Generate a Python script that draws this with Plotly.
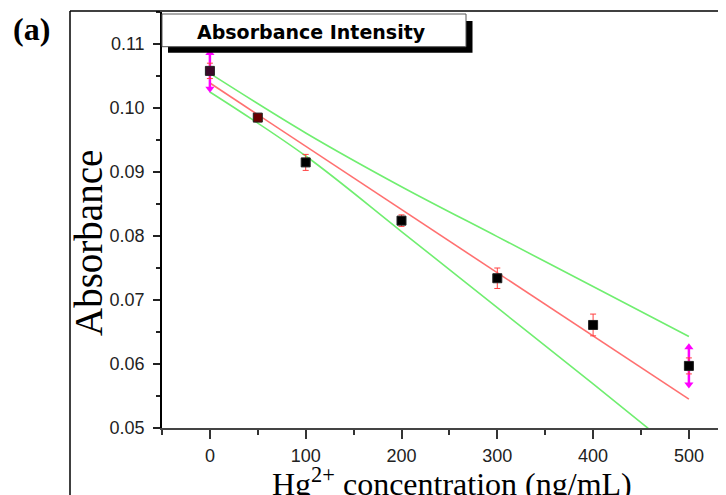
import plotly.graph_objects as go

# ---- data ----
conc = [0, 50, 100, 200, 300, 400, 500]
absorb = [0.1058, 0.0985, 0.0915, 0.0824, 0.0734, 0.0661, 0.0597]
err = [0.0012, 0.0005, 0.00125, 0.0009, 0.0016, 0.0017, 0.00125]
marker_colors = ["#3a0a28", "#6a0000", "black", "black", "black", "black", "black"]

fit_x = [0, 500]
fit_y = [0.1039, 0.0545]

band_x = [0, 100, 200, 300, 400, 500]
band_upper = [0.1054, 0.0961, 0.0877, 0.0799, 0.0721, 0.0643]
band_lower = [0.1025, 0.0925, 0.0807, 0.0688, 0.0569, 0.0448]

arrow_x = [0, 500]
arrow_y = [0.1058, 0.0597]
arrow_half = [0.0028, 0.0029]

x_ticks = [0, 100, 200, 300, 400, 500]
y_ticks = [0.05, 0.06, 0.07, 0.08, 0.09, 0.10, 0.11]

# ---- layout geometry (pixels) ----
OFF = 8                      # page body margin of the html page
WIN_W, WIN_H = 726, 495
W, H = WIN_W - OFF, WIN_H - OFF
PLOT_L, PLOT_T, PLOT_B = 162, 12, 428   # plot box in window pixels
L, T = PLOT_L - OFF, PLOT_T - OFF
B = H - (PLOT_B - OFF)
R = 0
PW, PH = W - L - R, H - T - B


def px(xp):
    return (xp - OFF - L) / PW


def py(yp):
    return (H - B - (yp - OFF)) / PH


fig = go.Figure()

# confidence lines (green)
fig.add_trace(go.Scatter(x=band_x, y=band_upper, mode="lines",
                         line=dict(color="#70ee70", width=1.6, shape="spline"),
                         hoverinfo="skip", showlegend=False))
fig.add_trace(go.Scatter(x=band_x, y=band_lower, mode="lines",
                         line=dict(color="#70ee70", width=1.6, shape="spline"),
                         hoverinfo="skip", showlegend=False))
# linear fit (red)
fig.add_trace(go.Scatter(x=fit_x, y=fit_y, mode="lines",
                         line=dict(color="#ff7070", width=1.6),
                         hoverinfo="skip", showlegend=False))

# magenta arrows
seg_x, seg_y = [], []
for xv, yv, h in zip(arrow_x, arrow_y, arrow_half):
    seg_x += [xv, xv, None]
    seg_y += [yv - h, yv + h, None]
fig.add_trace(go.Scatter(x=seg_x, y=seg_y, mode="lines",
                         line=dict(color="#ff00ff", width=2.5),
                         hoverinfo="skip", showlegend=False))
fig.add_trace(go.Scatter(x=arrow_x, y=[yv + h for yv, h in zip(arrow_y, arrow_half)],
                         mode="markers",
                         marker=dict(symbol="triangle-up", size=8, color="#ff00ff"),
                         hoverinfo="skip", showlegend=False))
fig.add_trace(go.Scatter(x=arrow_x, y=[yv - h for yv, h in zip(arrow_y, arrow_half)],
                         mode="markers",
                         marker=dict(symbol="triangle-down", size=8, color="#ff00ff"),
                         hoverinfo="skip", showlegend=False))

# data points with error bars
fig.add_trace(go.Scatter(x=conc, y=absorb, mode="markers",
                         marker=dict(symbol="square", size=9, color=marker_colors,
                                     line=dict(color="#222", width=1)),
                         error_y=dict(type="data", array=err, visible=True,
                                      color="#ff4040", thickness=1, width=3),
                         showlegend=False))

tickfont = dict(family="Liberation Sans, Arial, sans-serif", size=18, color="#222")

fig.update_xaxes(range=[-50, -50 + PW / 0.958], tickvals=x_ticks, ticks="outside",
                 ticklen=9, tickwidth=1.5, tickcolor="#333",
                 minor=dict(ticks="outside", ticklen=5, dtick=50, tick0=0,
                            tickwidth=1.5, tickcolor="#333"),
                 showline=True, linecolor="#444", linewidth=1.8,
                 showgrid=False, zeroline=False, tickfont=tickfont,
                 ticklabelstandoff=1)
fig.update_yaxes(range=[0.05, 0.115], tickvals=y_ticks, tickformat=".2f",
                 ticks="outside", ticklen=7, tickwidth=1.5, tickcolor="#222",
                 minor=dict(ticks="outside", ticklen=4, dtick=0.005, tick0=0.05,
                            tickwidth=1.5, tickcolor="#222"),
                 showline=True, linecolor="black", linewidth=1.5,
                 showgrid=False, zeroline=False, tickfont=tickfont,
                 ticklabelstandoff=5)

shapes = [
    # outer frame
    dict(type="line", xref="paper", yref="paper", x0=px(70), x1=px(70),
         y0=py(11), y1=py(WIN_H), line=dict(color="black", width=1.5)),
    dict(type="line", xref="paper", yref="paper", x0=px(70), x1=px(WIN_W),
         y0=py(11), y1=py(11), line=dict(color="black", width=1.5)),
    # legend box shadow
    dict(type="rect", xref="paper", yref="paper", x0=px(168), x1=px(472.5),
         y0=py(52.7), y1=py(21), fillcolor="black", line=dict(width=0)),
    # legend box
    dict(type="rect", xref="paper", yref="paper", x0=px(162), x1=px(466),
         y0=py(46.7), y1=py(14), fillcolor="white",
         line=dict(color="#555", width=1)),
]

annotations = [
    dict(text="Absorbance Intensity", xref="paper", yref="paper",
         x=px(311.5), y=py(32), showarrow=False, xanchor="center", yanchor="middle",
         font=dict(family="DejaVu Sans, Verdana, sans-serif", size=19, color="black",
                   weight="bold")),
    dict(text="<b>(a)</b>", xref="paper", yref="paper", x=px(31), y=py(29),
         showarrow=False, xanchor="center", yanchor="middle",
         font=dict(family="Liberation Serif, Times New Roman, serif", size=32,
                   color="black")),
    dict(text="Absorbance", xref="paper", yref="paper", x=px(88), y=py(243),
         showarrow=False, textangle=-90, xanchor="center", yanchor="middle",
         font=dict(family="Liberation Serif, Times New Roman, serif", size=39,
                   color="black")),
    dict(text="Hg<sup>2+</sup> concentration (ng/mL)", xref="paper", yref="paper",
         x=px(452), y=py(482), showarrow=False, xanchor="center", yanchor="middle",
         font=dict(family="Liberation Serif, Times New Roman, serif", size=32,
                   color="black")),
]

fig.update_layout(width=W, height=H, margin=dict(l=L, r=R, t=T, b=B),
                  paper_bgcolor="white", plot_bgcolor="white",
                  shapes=shapes, annotations=annotations, showlegend=False)

fig.write_html("out.html")
